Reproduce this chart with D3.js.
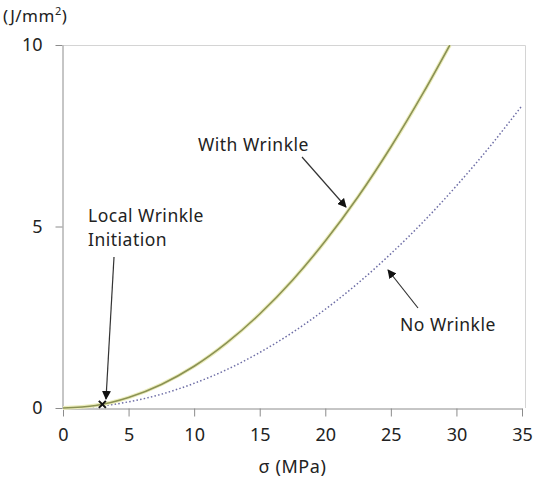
<!DOCTYPE html>
<html>
<head>
<meta charset="utf-8">
<script src="https://cdn.jsdelivr.net/npm/d3@7"></script>
<style>
  html, body { margin: 0; padding: 0; background: #fff; }
  svg { display: block; font-family: "Noto Sans", "Open Sans", sans-serif; }
</style>
</head>
<body>
<svg id="chart" width="536" height="484"></svg>
<script>
// Strain energy per unit area versus applied stress
const stressWith = [0, 2.5, 5, 7.5, 10, 12.5, 15, 17.5, 20, 22.5, 25, 27.5, 29.5];
const energyWith = [0, 0.07, 0.29, 0.65, 1.15, 1.8, 2.59, 3.52, 4.6, 5.82, 7.19, 8.7, 10.0];
const stressNo = [0, 2.5, 5, 7.5, 10, 12.5, 15, 17.5, 20, 22.5, 25, 27.5, 30, 32.5, 35];
const energyNo = [0, 0.04, 0.17, 0.38, 0.68, 1.06, 1.53, 2.08, 2.72, 3.44, 4.25, 5.14, 6.12, 7.18, 8.33];
const xTicks = [0, 5, 10, 15, 20, 25, 30, 35];
const yTicks = [0, 5, 10];
const initiation = { x: 3, y: 0.1 };

const svg = d3.select("#chart");
const m = { left: 63, right: 522, top: 45, bottom: 408 };

const x = d3.scaleLinear().domain([0, 35]).range([m.left, m.right]);
const y = d3.scaleLinear().domain([0, 10]).range([m.bottom, m.top]);

// plot-area frame (top and right edges)
svg.append("path")
  .attr("d", `M${m.left},${m.top + 0.5}H${m.right + 3.5}V${m.bottom}`)
  .attr("fill", "none").attr("stroke", "#d4d4d4").attr("stroke-width", 1);

// axes
const xAxis = svg.append("g").attr("transform", `translate(0,${m.bottom + 0.5})`)
  .call(d3.axisBottom(x).tickValues(xTicks).tickSize(8).tickPadding(12).tickSizeOuter(0));
const yAxis = svg.append("g").attr("transform", `translate(${m.left - 0.5},0)`)
  .call(d3.axisLeft(y).tickValues(yTicks).tickSize(7).tickPadding(13).tickSizeOuter(0));
[xAxis, yAxis].forEach(g => {
  g.select(".domain").attr("stroke", "#8c8c8c");
  g.selectAll(".tick line").attr("stroke", "#8c8c8c");
  g.selectAll(".tick text").attr("fill", "#222").style("font-size", "18px")
    .style("font-family", "'Noto Sans', sans-serif");
});

// clip curves to the plot area
svg.append("clipPath").attr("id", "plot")
  .append("rect").attr("x", m.left).attr("y", m.top).attr("width", m.right - m.left + 4).attr("height", m.bottom - m.top + 2);

const line = d3.line().x(d => x(d[0])).y(d => y(d[1])).curve(d3.curveMonotoneX);
const withData = stressWith.map((s, i) => [s, energyWith[i]]);
const noData = stressNo.map((s, i) => [s, energyNo[i]]);

const curves = svg.append("g").attr("clip-path", "url(#plot)");
curves.append("path").attr("d", line(noData))
  .attr("fill", "none").attr("stroke", "#6e6ea6").attr("stroke-width", 1.5)
  .attr("stroke-dasharray", "1.5,2.2");
curves.append("path").attr("d", line(withData))
  .attr("fill", "none").attr("stroke", "#ecedbd").attr("stroke-width", 3.8);
curves.append("path").attr("d", line(withData))
  .attr("fill", "none").attr("stroke", "#8b9254").attr("stroke-width", 1.6);

// initiation marker
const cx = x(initiation.x), cy = y(initiation.y);
svg.append("path")
  .attr("d", `M${cx - 3.5},${cy - 3.5}L${cx + 3.5},${cy + 3.5}M${cx - 3.5},${cy + 3.5}L${cx + 3.5},${cy - 3.5}`)
  .attr("stroke", "#111").attr("stroke-width", 2);

// arrowheads
svg.append("defs").append("marker")
  .attr("id", "arrow").attr("viewBox", "0 0 10 10").attr("refX", 9).attr("refY", 5)
  .attr("markerWidth", 9).attr("markerHeight", 9).attr("markerUnits", "userSpaceOnUse")
  .attr("orient", "auto")
  .append("path").attr("d", "M0,0L10,5L0,10Z").attr("fill", "#111");

const arrows = [
  { from: [114, 257], to: [106, 399] },
  { from: [302, 157], to: [346, 207] },
  { from: [418, 308], to: [388, 270] }
];
svg.selectAll(".arrow").data(arrows).join("line")
  .attr("x1", d => d.from[0]).attr("y1", d => d.from[1])
  .attr("x2", d => d.to[0]).attr("y2", d => d.to[1])
  .attr("stroke", "#333").attr("stroke-width", 1.2)
  .attr("marker-end", "url(#arrow)");

// annotation text
const notes = [
  { t: "Local Wrinkle", x: 88, y: 222 },
  { t: "Initiation", x: 88, y: 246 },
  { t: "With Wrinkle", x: 198, y: 151 },
  { t: "No Wrinkle", x: 400, y: 331 }
];
svg.selectAll(".note").data(notes).join("text")
  .attr("x", d => d.x).attr("y", d => d.y)
  .attr("fill", "#222").style("font-size", "17.5px").style("letter-spacing", "0.5px")
  .text(d => d.t);

// axis titles
svg.append("text").attr("x", 3).attr("y", 22).attr("fill", "#222").style("font-size", "17px")
  .style("letter-spacing", "0.5px")
  .html('(J/mm<tspan dy="-7" style="font-size:11px">2</tspan><tspan dy="7">)</tspan>');
svg.append("text").attr("x", x(17.5)).attr("y", 473).attr("text-anchor", "middle")
  .attr("fill", "#222").style("font-size", "18px").style("letter-spacing", "0.6px").text("σ (MPa)");
</script>
</body>
</html>
